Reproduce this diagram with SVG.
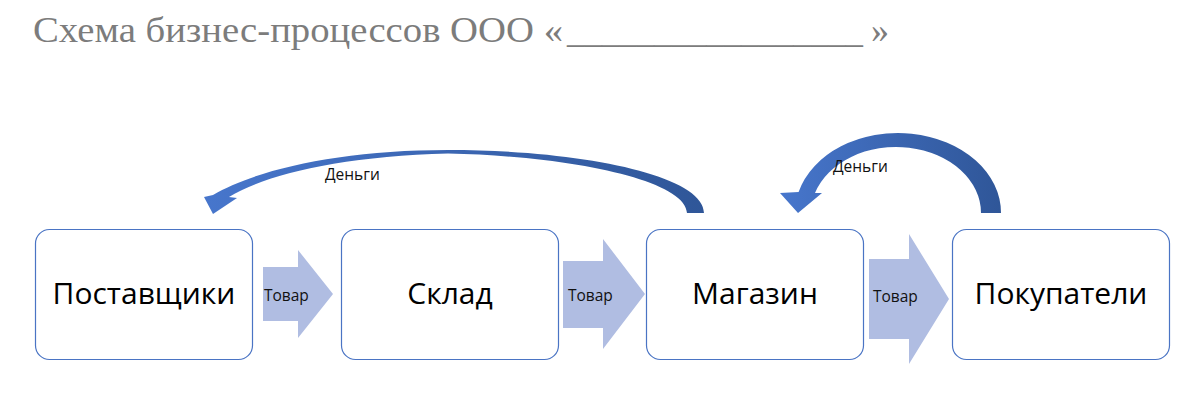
<svg xmlns="http://www.w3.org/2000/svg" width="1200" height="417" viewBox="0 0 1200 417">
  <defs>
    <linearGradient id="gBig" x1="205" y1="0" x2="705" y2="0" gradientUnits="userSpaceOnUse">
      <stop offset="0" stop-color="#4776CC"/>
      <stop offset="1" stop-color="#2F5698"/>
    </linearGradient>
    <linearGradient id="gSmall" x1="780" y1="0" x2="1001" y2="0" gradientUnits="userSpaceOnUse">
      <stop offset="0" stop-color="#4776CC"/>
      <stop offset="1" stop-color="#2F5698"/>
    </linearGradient>
  </defs>
  <style>
    .box { fill: #FFFFFF; stroke: #4A74C4; stroke-width: 1.2; }
    .lbl { font-family: "Open Sans", "Noto Sans", "DejaVu Sans", sans-serif; font-size: 30px; fill: #000000; text-anchor: middle; }
    .flow { fill: #B0BDE2; }
    .small { font-family: "Open Sans", "Noto Sans", "DejaVu Sans", sans-serif; font-size: 15.5px; fill: #111111; }
    .title { font-family: "Liberation Serif", "DejaVu Serif", "Noto Serif", serif; font-size: 36px; fill: #7C7C7C; }
  </style>
  <rect width="1200" height="417" fill="#FFFFFF"/>

  <text class="title" y="42"><tspan x="33" textLength="530" lengthAdjust="spacingAndGlyphs">Схема бизнес-процессов ООО «</tspan><tspan x="567" textLength="296" lengthAdjust="spacingAndGlyphs">_________________</tspan><tspan x="871">»</tspan></text>

  <g id="connectors">
    <path class="flow" d="M263,267 H298 V250 L333,294 L298,338 V321 H263 Z"/>
    <path class="flow" d="M563,261 H603 V239 L645,294 L603,349 V328 H563 Z"/>
    <path class="flow" d="M869,259 H909 V234 L949,299 L909,364 V339 H869 Z"/>
    <text class="small" x="264" y="301">Товар</text>
    <text class="small" x="568" y="301">Товар</text>
    <text class="small" x="873" y="302">Товар</text>

    <path fill="url(#gBig)" d="M704,213 C704,175 580,150 448,150 C340,150 255,170 213,195 L204,197 L213,214 L237,198 L229,197 C262,176 340,156 448,153.5 C570,156 686,180 687,213 Z"/>
    <text class="small" x="325" y="180">Деньги</text>

    <path fill="url(#gSmall)" d="M1001,213 A103,80 0 0 0 798.6,192 L780,193 L798,213 L822,193 L815,193 A85,66 0 0 1 981,213 Z"/>
    <text class="small" x="833" y="172">Деньги</text>
  </g>

  <g id="node-suppliers">
    <rect class="box" x="35.5" y="229.5" width="217" height="130" rx="14"/>
    <text class="lbl" x="144" y="304">Поставщики</text>
  </g>
  <g id="node-warehouse">
    <rect class="box" x="341.5" y="229.5" width="217" height="130" rx="14"/>
    <text class="lbl" x="450" y="304">Склад</text>
  </g>
  <g id="node-shop">
    <rect class="box" x="646.5" y="229.5" width="217" height="130" rx="14"/>
    <text class="lbl" x="755" y="304">Магазин</text>
  </g>
  <g id="node-customers">
    <rect class="box" x="952.5" y="229.5" width="217" height="130" rx="14"/>
    <text class="lbl" x="1061" y="304">Покупатели</text>
  </g>
</svg>
